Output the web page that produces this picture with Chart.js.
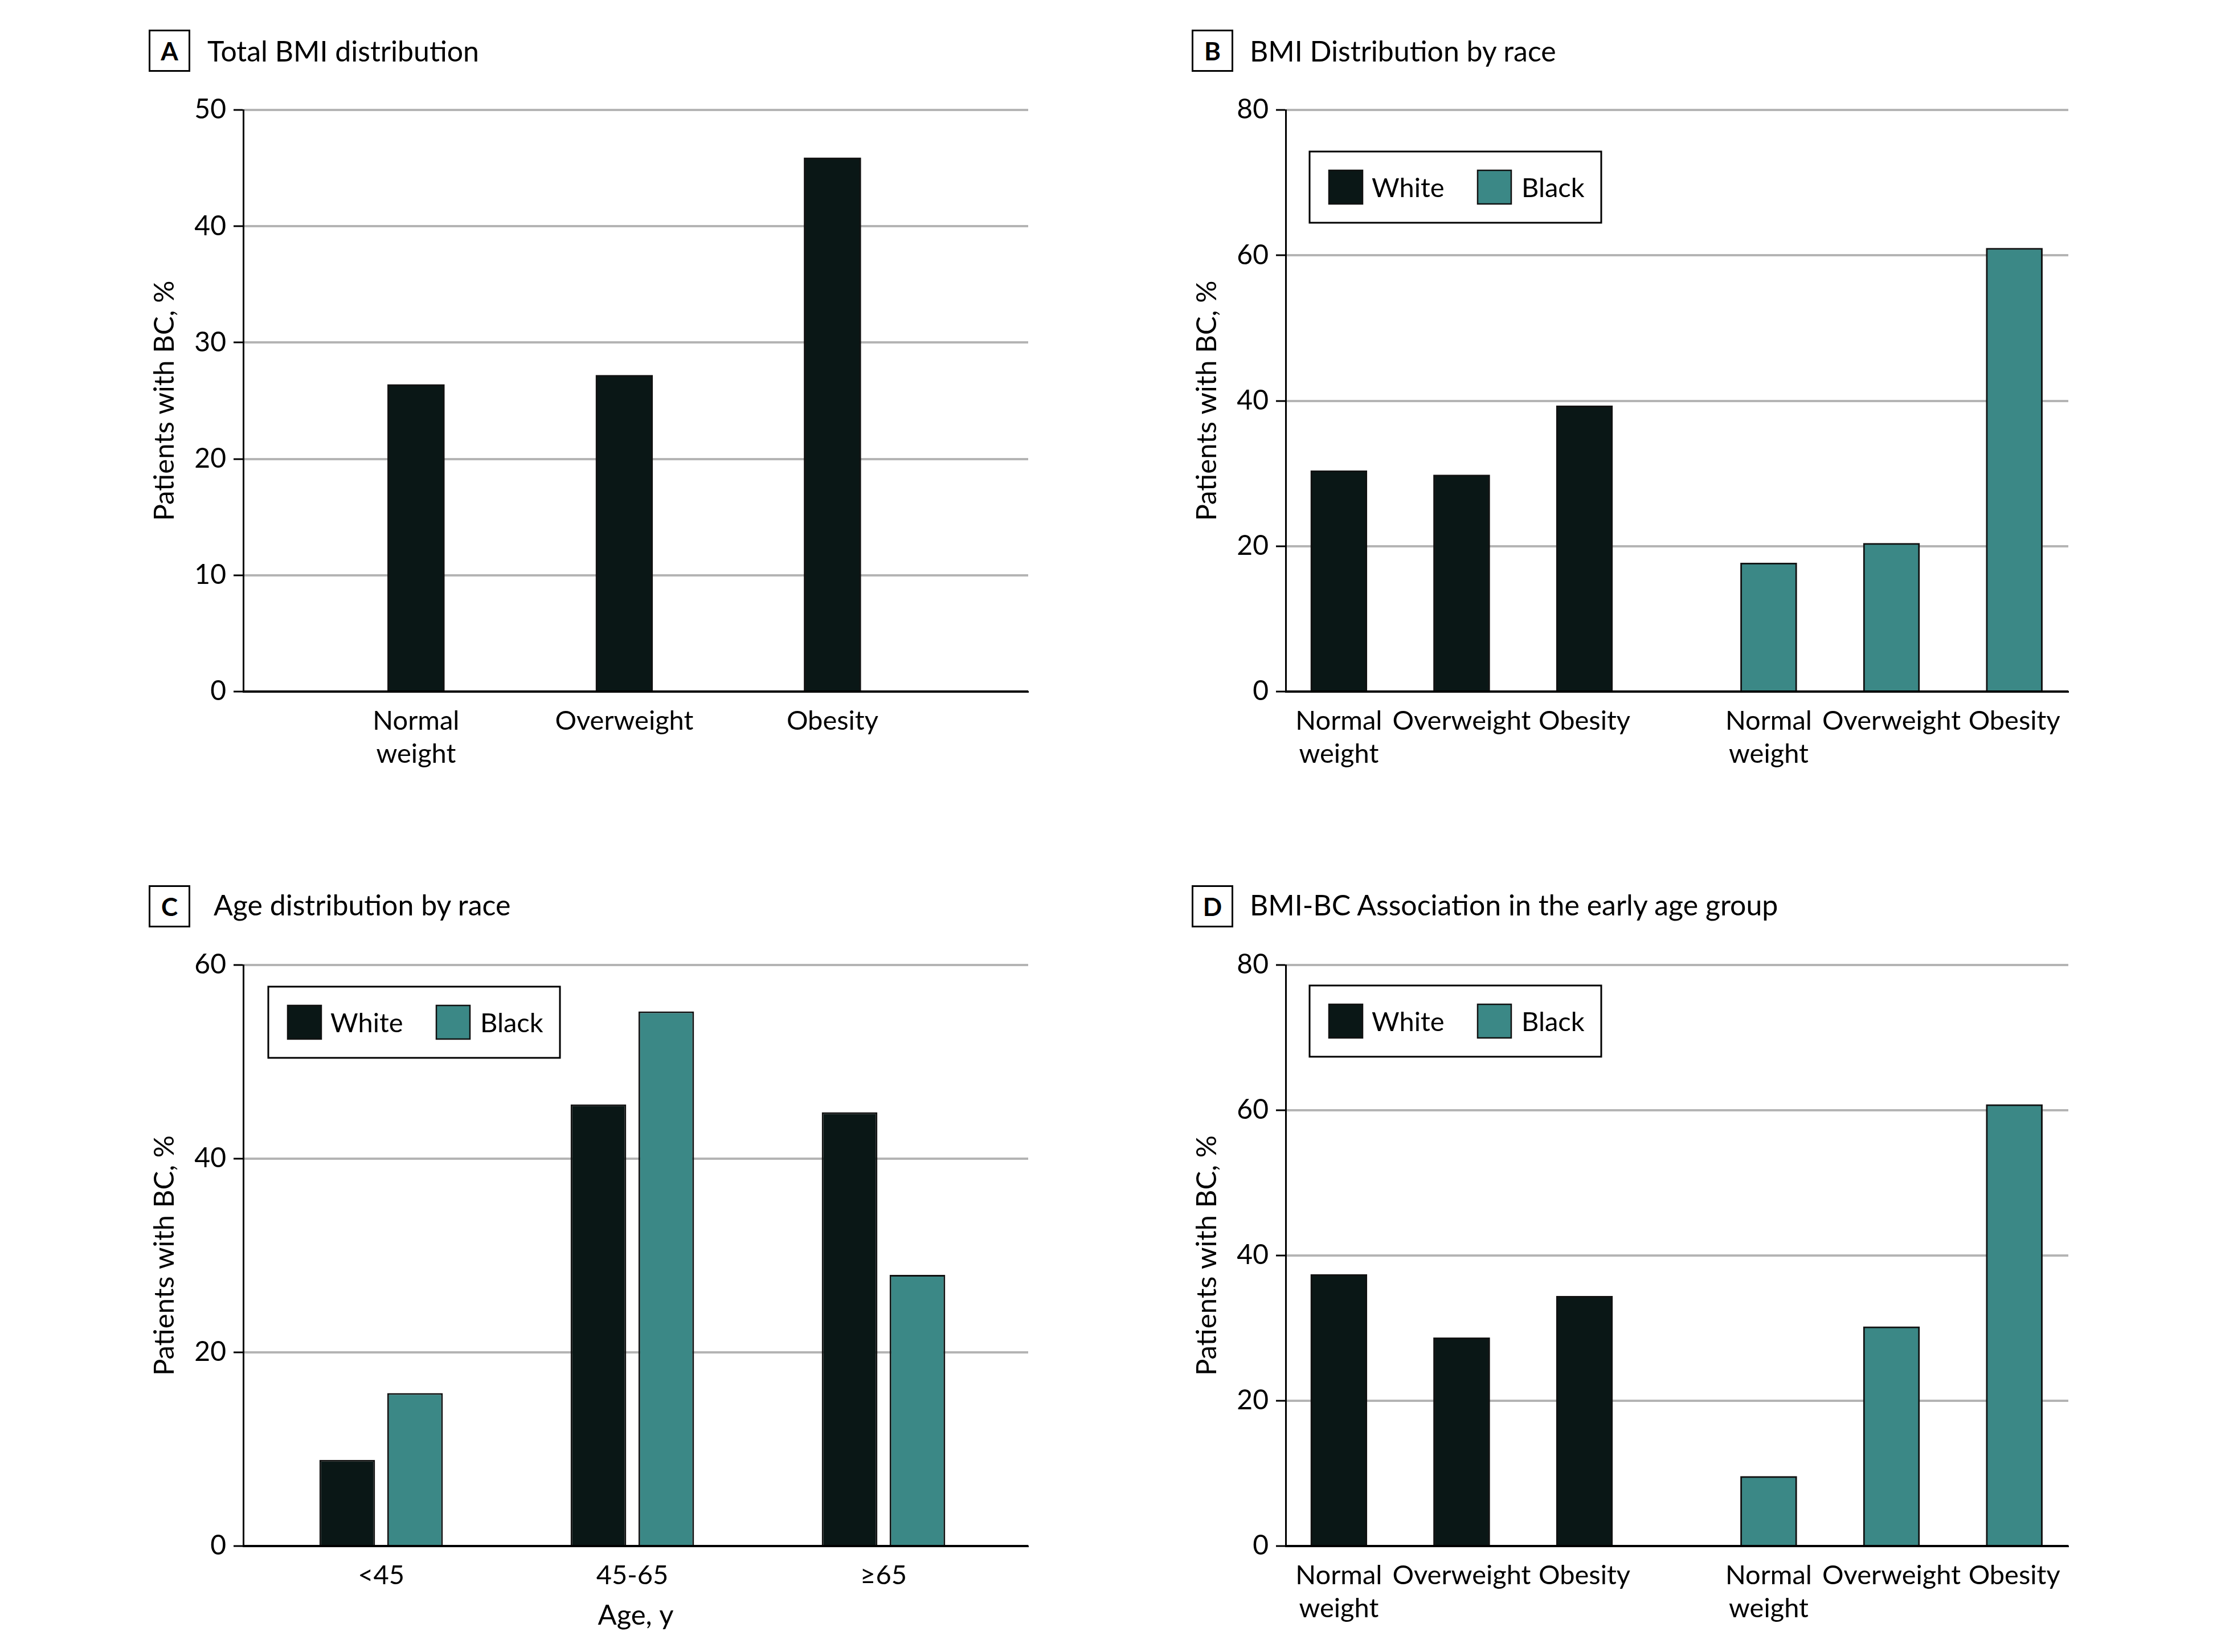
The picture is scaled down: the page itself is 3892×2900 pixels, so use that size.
<!DOCTYPE html>
<html>
<head>
<meta charset="utf-8">
<script src="https://cdn.jsdelivr.net/npm/chart.js@4.4.1/dist/chart.umd.min.js"></script>
<style>
  html, body { margin: 0; padding: 0; background: #fff; }
  body { width: 3892px; height: 2900px; position: relative; overflow: hidden; font-family: Lato, sans-serif; color: #000; }
  canvas { position: absolute; }
  .tag { position: absolute; width: 67px; height: 68px; border: 3px solid #000; font-weight: 700; font-size: 44px; line-height: 68px; text-align: center; }
  .ttl { position: absolute; font-size: 50px; line-height: 1; white-space: nowrap; }
</style>
</head>
<body>
<div class="tag" style="left:261px;top:52px">A</div>
<div class="ttl" style="left:364px;top:64px">Total BMI distribution</div>
<div class="tag" style="left:2092px;top:52px">B</div>
<div class="ttl" style="left:2194px;top:64px">BMI Distribution by race</div>
<div class="tag" style="left:261px;top:1554px">C</div>
<div class="ttl" style="left:375px;top:1563px">Age distribution by race</div>
<div class="tag" style="left:2092px;top:1554px">D</div>
<div class="ttl" style="left:2194px;top:1563px">BMI-BC Association in the early age group</div>

<canvas id="chartA" width="1600" height="1350" style="left:240px;top:150px"></canvas>
<canvas id="chartB" width="1600" height="1350" style="left:2070px;top:150px"></canvas>
<canvas id="chartC" width="1600" height="1250" style="left:240px;top:1650px"></canvas>
<canvas id="chartD" width="1600" height="1250" style="left:2070px;top:1650px"></canvas>

<script>
// categories
const bmiCats = ['Normal weight', 'Overweight', 'Obesity'];
const ageCats = ['<45', '45-65', '≥65'];
const races = ['White', 'Black'];

// values (% of patients with BC)
const totalBmi = [26.4, 27.2, 45.9];
const bmiWhite = [30.4, 29.8, 39.3];
const bmiBlack = [17.7, 20.4, 61.0];
const ageWhite = [8.9, 45.6, 44.8];
const ageBlack = [15.8, 55.2, 28.0];
const earlyWhite = [37.4, 28.7, 34.4];
const earlyBlack = [9.6, 30.2, 60.8];

// y tick labels
const yTicksA = [0, 10, 20, 30, 40, 50];
const yTicksB = [0, 20, 40, 60, 80];
const yTicksC = [0, 20, 40, 60];
const yTicksD = [0, 20, 40, 60, 80];

const dark = '#0a1716';
const teal = '#3b8886';
const grey = '#b4b4b4';
const groupGap = 0.5; // extra space between the White and Black groups in B and D

Chart.defaults.font.family = 'Lato';
Chart.defaults.color = '#000';

// legend drawn as a framed box inside the plot area
const boxLegend = {
  id: 'boxLegend',
  afterDraw(chart, args, opts) {
    if (!opts.show) return;
    const ctx = chart.ctx;
    const area = chart.chartArea;
    const x0 = area.left + opts.dx;
    const y0 = area.top + opts.dy;
    const w = 512, h = 125, sw = 59;
    const swatchX = [34, 295];
    const textX = [109, 372];
    const cy = y0 + h / 2;
    ctx.save();
    ctx.fillStyle = '#fff';
    ctx.fillRect(x0, y0, w, h);
    ctx.lineWidth = 3;
    ctx.strokeStyle = '#000';
    ctx.strokeRect(x0, y0, w, h);
    ctx.font = '47px Lato';
    ctx.textBaseline = 'alphabetic';
    chart.data.datasets.forEach((d, i) => {
      const x = x0 + swatchX[i];
      ctx.fillStyle = d.backgroundColor;
      ctx.fillRect(x, cy - sw / 2, sw, sw);
      ctx.lineWidth = 2.5;
      ctx.strokeStyle = '#111';
      ctx.strokeRect(x, cy - sw / 2, sw, sw);
      ctx.fillStyle = '#000';
      ctx.fillText(d.label, x0 + textX[i], cy + 17);
    });
    ctx.restore();
  }
};
Chart.register(boxLegend);

function options(p) {
  return {
    responsive: false,
    animation: false,
    devicePixelRatio: 1,
    layout: { padding: { top: p.top, right: p.right, left: 0, bottom: 0 } },
    plugins: {
      legend: { display: false },
      tooltip: { enabled: false },
      boxLegend: p.legend || { show: false }
    },
    scales: {
      x: {
        type: 'linear',
        offset: false,
        min: p.xMin,
        max: p.xMax,
        grid: { display: false, drawTicks: false, offset: false },
        border: { color: '#000', width: 3 },
        afterBuildTicks: s => { s.ticks = p.xPos.map(v => ({ value: v })); },
        afterFit: s => { s.height = p.xHeight; },
        ticks: {
          autoSkip: false, maxRotation: 0, minRotation: 0, padding: 22, color: '#000',
          font: { size: 47, lineHeight: 1.25 },
          callback: (v, i) => p.xLabels[i].split(' ')
        },
        title: p.xTitle
          ? { display: true, text: p.xTitle, color: '#000', font: { size: 49, lineHeight: 1.2 }, padding: { top: 0, bottom: 34 } }
          : { display: false }
      },
      y: {
        min: p.yTicks[0],
        max: p.yTicks[p.yTicks.length - 1],
        afterBuildTicks: s => { s.ticks = p.yTicks.map(v => ({ value: v })); },
        afterFit: s => { s.width = 187; },
        grid: {
          color: c => (c.tick && c.tick.value === 0) ? '#000' : grey,
          lineWidth: 4,
          tickColor: '#000', tickWidth: 3, tickLength: 17, drawTicks: true
        },
        border: { color: '#000', width: 3 },
        ticks: { padding: 13, color: '#000', font: { size: 48 } },
        title: {
          display: true, text: 'Patients with BC, %', color: '#000',
          font: { size: 49, lineHeight: 1.2 }, padding: { top: 20, bottom: 0 }
        }
      }
    }
  };
}

const barStyle = { borderColor: '#111', borderWidth: 3 };

// A: one series
new Chart(document.getElementById('chartA'), {
  type: 'bar',
  data: {
    datasets: [{
      label: 'Total',
      data: bmiCats.map((c, i) => ({ x: i, y: totalBmi[i] })),
      backgroundColor: dark, barThickness: 100, ...barStyle
    }]
  },
  options: options({
    top: 43, right: 35, xHeight: 286,
    xMin: -0.83, xMax: 2.94,
    xPos: bmiCats.map((c, i) => i), xLabels: bmiCats,
    yTicks: yTicksA
  })
});

// B and D: White group then Black group on one axis
function raceGroups(id, white, black, yTicks, top, xHeight, legendDy) {
  const slot = (g, i) => g * (bmiCats.length + groupGap) + i;
  new Chart(document.getElementById(id), {
    type: 'bar',
    data: {
      datasets: [
        { label: races[0], data: bmiCats.map((c, i) => ({ x: slot(0, i), y: white[i] })),
          backgroundColor: dark, barThickness: 99, grouped: false, ...barStyle },
        { label: races[1], data: bmiCats.map((c, i) => ({ x: slot(1, i), y: black[i] })),
          backgroundColor: teal, barThickness: 99, grouped: false, ...barStyle }
      ]
    },
    options: options({
      top, right: 39, xHeight,
      xMin: -0.433, xMax: 5.94,
      xPos: [0, 1].flatMap(g => bmiCats.map((c, i) => slot(g, i))),
      xLabels: [...bmiCats, ...bmiCats],
      yTicks,
      legend: { show: true, dx: 42, dy: legendDy }
    })
  });
}
raceGroups('chartB', bmiWhite, bmiBlack, yTicksB, 43, 286, 73);
raceGroups('chartD', earlyWhite, earlyBlack, yTicksD, 44, 186, 36);

// C: grouped by age
new Chart(document.getElementById('chartC'), {
  type: 'bar',
  data: {
    datasets: [
      { label: races[0], data: ageCats.map((c, i) => ({ x: i, y: ageWhite[i] })),
        backgroundColor: dark, categoryPercentage: 0.54, barPercentage: 0.82, ...barStyle },
      { label: races[1], data: ageCats.map((c, i) => ({ x: i, y: ageBlack[i] })),
        backgroundColor: teal, categoryPercentage: 0.54, barPercentage: 0.82, ...barStyle }
    ]
  },
  options: options({
    top: 44, right: 35, xHeight: 186,
    xMin: -0.549, xMax: 2.576,
    xPos: ageCats.map((c, i) => i), xLabels: ageCats,
    xTitle: 'Age, y',
    yTicks: yTicksC,
    legend: { show: true, dx: 44, dy: 38 }
  })
});
</script>
</body>
</html>
